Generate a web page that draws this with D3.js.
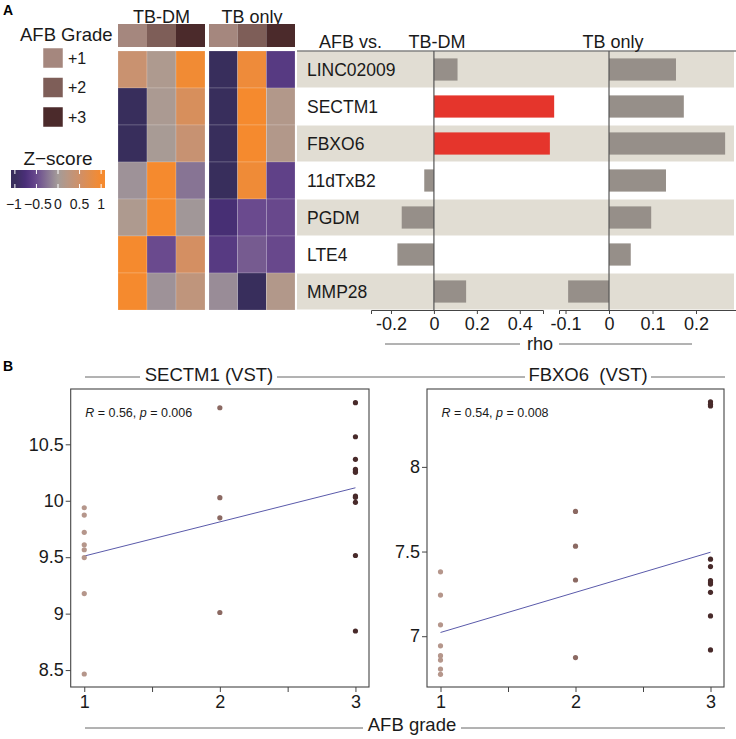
<!DOCTYPE html>
<html><head><meta charset="utf-8">
<script src="https://cdn.jsdelivr.net/npm/d3@7"></script>
<style>body{margin:0;background:#fff}svg{font-family:"Liberation Sans",Arial,sans-serif}</style>
</head><body>
<svg id="c" width="736" height="739"></svg>
<script>
// ---------- data ----------
const genes = ["LINC02009","SECTM1","FBXO6","11dTxB2","PGDM","LTE4","MMP28"];
const groups = ["TB-DM","TB only"];
const grades = [1,2,3];
const gradeLabels = ["+1","+2","+3"];
// z-scores per gene, columns = AFB grade 1,2,3
const zTBDM = [[0.42,0.1,0.95],[-1,0.07,0.6],[-1,0.04,0.4],[-0.06,1,-0.25],[0.1,1,-0.03],[1,-0.5,0.55],[1,-0.06,0.3]];
const zTBonly = [[-1,0.9,-0.65],[-1,1,0.15],[-1,1,0.15],[-1,0.92,-0.58],[-0.8,-0.5,-0.52],[-0.65,-0.4,-0.52],[-0.1,-1,0.15]];
const rhoTBDM = [0.11,0.56,0.54,-0.045,-0.15,-0.17,0.15];
const rhoTBonly = [0.154,0.172,0.267,0.131,0.097,0.05,-0.094];
const sigTBDM = [false,true,true,false,false,false,false];
const sigTBonly = [false,false,false,false,false,false,false];
const zTicks = [-1,-0.5,0,0.5,1];
const zTickLabels = ["−1","−0.5","0","0.5","1"];
const rhoTicksDM = [-0.2,0,0.2,0.4];
const rhoTicksTB = [-0.1,0,0.1,0.2];
// scatter data
const secGrade = [1,1,1,1,1,1,1,1, 2,2,2,2, 3,3,3,3,3,3,3,3,3,3,3];
const secVST = [9.938,9.873,9.72,9.61,9.566,9.497,9.178,8.465, 10.824,10.027,9.849,9.01,
  10.869,10.567,10.367,10.278,10.263,10.252,10.042,10.03,9.986,9.515,8.846];
const fbxGrade = [1,1,1,1,1,1,1,1, 2,2,2,2, 3,3,3,3,3,3,3,3,3,3,3];
const fbxVST = [7.38,7.243,7.067,6.943,6.885,6.859,6.806,6.775, 7.737,7.532,7.332,6.874,
  8.384,8.37,8.36,7.455,7.411,7.328,7.316,7.308,7.259,7.12,6.919];
const secFit = [9.51,10.115];   // fitted line at grade 1 and 3
const fbxFit = [7.022,7.496];
const secYTicks = [8.5,9,9.5,10,10.5];
const fbxYTicks = [7,7.5,8];
const xTicks = [1,1.5,2,2.5,3];
const secStat = {R:"0.56", p:"0.006"};
const fbxStat = {R:"0.54", p:"0.008"};

// ---------- styles ----------
const gradeCol = d3.scaleOrdinal().domain(grades).range(["#a5877e","#7e5e58","#4b2a2b"]);
const ptCol = d3.scaleOrdinal().domain(grades).range(["#b5968b","#8b6962","#482a2a"]);
const zCol = d3.scaleLinear().domain([-1,-0.75,-0.5,-0.25,0,0.5,1])
  .range(["#382e5c","#4b2f7a","#6a4a8e","#877494","#a59c99","#d09068","#f58a2e"]).clamp(true);

const svg = d3.select("#c");
const txt = "#1a1a1a";

// panel letters
svg.append("text").attr("x",3).attr("y",15).attr("font-size",14).attr("font-weight","bold").text("A");
svg.append("text").attr("x",3).attr("y",371).attr("font-size",14).attr("font-weight","bold").text("B");

// ---------- AFB grade legend ----------
svg.append("text").attr("x",20).attr("y",35).attr("dy","0.35em").attr("font-size",18.5).attr("fill",txt).text("AFB Grade");
const legY = d3.scalePoint().domain(grades).range([58,117]);
grades.forEach((g,i)=>{
  svg.append("rect").attr("x",43).attr("y",legY(g)-10).attr("width",20).attr("height",20)
    .attr("fill",gradeCol(g)).attr("stroke","#fff").attr("stroke-width",0.5);
  svg.append("text").attr("x",68).attr("y",legY(g)).attr("dy","0.35em").attr("font-size",16).attr("fill",txt).text(gradeLabels[i]);
});

// ---------- Z-score legend ----------
svg.append("text").attr("x",58).attr("y",158).attr("dy","0.35em").attr("text-anchor","middle").attr("font-size",19).attr("fill",txt).text("Z−score");
const zx = d3.scaleLinear().domain([-1.09,1.09]).range([11,105]);
const grad = svg.append("defs").append("linearGradient").attr("id","zg");
d3.range(0,1.0001,0.05).forEach(t=>{
  grad.append("stop").attr("offset",t).attr("stop-color",zCol(-1.09+2.18*t));
});
svg.append("rect").attr("x",11).attr("y",170).attr("width",94).attr("height",18).attr("fill","url(#zg)");
zTicks.forEach((v,i)=>{
  svg.append("line").attr("x1",zx(v)).attr("x2",zx(v)).attr("y1",170).attr("y2",174).attr("stroke","#fff").attr("stroke-width",1);
  svg.append("line").attr("x1",zx(v)).attr("x2",zx(v)).attr("y1",184).attr("y2",188).attr("stroke","#fff").attr("stroke-width",1);
  svg.append("text").attr("x",zx(v) + (i===0?-1:(i===1?1.5:0))).attr("y",204).attr("dy","0.35em").attr("text-anchor","middle").attr("font-size",14).attr("fill",txt).text(zTickLabels[i]);
});

// ---------- heatmap ----------
const yG = d3.scaleBand().domain(genes).range([51,310]);
const hmX = {
  "TB-DM": d3.scaleBand().domain(grades).range([118,205]),
  "TB only": d3.scaleBand().domain(grades).range([209,295])
};
const hmData = {"TB-DM": zTBDM, "TB only": zTBonly};
groups.forEach(gr=>{
  const x = hmX[gr];
  svg.append("text").attr("x",(x.range()[0]+x.range()[1])/2).attr("y",17).attr("dy","0.35em")
    .attr("text-anchor","middle").attr("font-size",18).attr("fill",txt).text(gr);
  grades.forEach(g=>{
    svg.append("rect").attr("x",x(g)).attr("y",24).attr("width",x.bandwidth()).attr("height",23).attr("fill",gradeCol(g));
  });
  genes.forEach((gene,i)=>{
    grades.forEach((g,j)=>{
      svg.append("rect").attr("x",x(g)).attr("y",yG(gene)).attr("width",x.bandwidth()).attr("height",yG.bandwidth())
        .attr("fill",zCol(hmData[gr][i][j])).attr("stroke","rgba(255,255,255,0.35)").attr("stroke-width",0.5);
    });
  });
});

// ---------- bar panels ----------
genes.forEach((gene,i)=>{
  if(i%2===0) svg.append("rect").attr("x",297).attr("y",yG(gene)+0.5).attr("width",437).attr("height",yG.bandwidth()-1).attr("fill","#e1ddd3");
  svg.append("text").attr("x",307).attr("y",yG(gene)+yG.bandwidth()/2).attr("dy","0.36em").attr("font-size",17.5).attr("fill",txt).text(gene);
});
svg.append("line").attr("x1",297).attr("x2",736).attr("y1",51).attr("y2",51).attr("stroke","#444").attr("stroke-width",1);
svg.append("text").attr("x",319).attr("y",42).attr("dy","0.35em").attr("font-size",18).attr("fill",txt).text("AFB vs.");
const yBar = d3.scaleBand().domain(genes).range([51,310]).paddingInner(0.4).paddingOuter(0.2);
const fmt = v => (v<0?"-":"") + d3.format("")(Math.abs(v));
const panels = [
  {name:"TB-DM", x:d3.scaleLinear().domain([-0.293,0.508]).range([371,543]), rho:rhoTBDM, sig:sigTBDM, ticks:rhoTicksDM, hx:437},
  {name:"TB only", x:d3.scaleLinear().domain([-0.115,0.292]).range([559,736]), rho:rhoTBonly, sig:sigTBonly, ticks:rhoTicksTB, hx:613}
];
panels.forEach(p=>{
  svg.append("text").attr("x",p.hx).attr("y",42).attr("dy","0.35em").attr("text-anchor","middle").attr("font-size",18).attr("fill",txt).text(p.name);
  genes.forEach((gene,i)=>{
    const v = p.rho[i];
    svg.append("rect").attr("x",p.x(Math.min(0,v))).attr("y",yBar(gene)).attr("width",Math.abs(p.x(v)-p.x(0))).attr("height",yBar.bandwidth())
      .attr("fill",p.sig[i]?"#e5352c":"#968f89");
  });
  svg.append("line").attr("x1",p.x(0)).attr("x2",p.x(0)).attr("y1",51).attr("y2",310).attr("stroke","#555").attr("stroke-width",1.2);
  const ax = svg.append("g").attr("transform","translate(0,310)")
    .call(d3.axisBottom(p.x).tickValues(p.ticks).tickFormat(fmt).tickSize(4).tickPadding(3));
  ax.select(".domain").attr("stroke","#444");
  ax.selectAll(".tick line").attr("stroke","#444");
  ax.selectAll("text").attr("font-size",18).attr("fill",txt).attr("font-family","Liberation Sans, Arial, sans-serif");
});
svg.append("line").attr("x1",385).attr("x2",520).attr("y1",344).attr("y2",344).attr("stroke","#666");
svg.append("line").attr("x1",559).attr("x2",692).attr("y1",344).attr("y2",344).attr("stroke","#666");
svg.append("text").attr("x",540).attr("y",344).attr("dy","0.35em").attr("text-anchor","middle").attr("font-size",18).attr("fill",txt).text("rho");

// ---------- scatter panels ----------
const scat = [
  {title:"SECTM1 (VST)", tx:209, g:secGrade, v:secVST, fit:secFit, yd:[8.35,10.99], yt:secYTicks, xr:[70.7,369], stat:secStat},
  {title:"FBXO6  (VST)", tx:588, g:fbxGrade, v:fbxVST, fit:fbxFit, yd:[6.70,8.46], yt:fbxYTicks, xr:[427,724], stat:fbxStat}
];
scat.forEach(s=>{
  const x = d3.scaleLinear().domain([0.9,3.1]).range(s.xr);
  const y = d3.scaleLinear().domain(s.yd).range([687,389]);
  svg.append("text").attr("x",s.tx).attr("y",375).attr("dy","0.35em").attr("text-anchor","middle")
    .attr("font-size",18.5).attr("fill",txt).style("white-space","pre").text(s.title);
  svg.append("rect").attr("x",s.xr[0]).attr("y",389).attr("width",s.xr[1]-s.xr[0]).attr("height",298)
    .attr("fill","none").attr("stroke","#444").attr("stroke-width",1.1);
  const ya = svg.append("g").attr("transform",`translate(${s.xr[0]},0)`)
    .call(d3.axisLeft(y).tickValues(s.yt).tickFormat(d3.format("")).tickSize(5).tickPadding(2));
  ya.select(".domain").remove();
  ya.selectAll(".tick line").attr("stroke","#444");
  ya.selectAll("text").attr("font-size",18).attr("fill",txt).attr("font-family","Liberation Sans, Arial, sans-serif");
  const xa = svg.append("g").attr("transform","translate(0,687)")
    .call(d3.axisBottom(x).tickValues(xTicks).tickFormat(d=>Number.isInteger(d)?d:"").tickSize(5).tickPadding(3));
  xa.select(".domain").remove();
  xa.selectAll(".tick line").attr("stroke","#444");
  xa.selectAll("text").attr("font-size",18).attr("fill",txt).attr("font-family","Liberation Sans, Arial, sans-serif");
  svg.append("line").attr("x1",x(1)).attr("x2",x(3)).attr("y1",y(s.fit[0])).attr("y2",y(s.fit[1]))
    .attr("stroke","#5a5aaa").attr("stroke-width",1);
  s.g.forEach((g,i)=>{
    svg.append("circle").attr("cx",x(g)).attr("cy",y(s.v[i])).attr("r",2.6).attr("fill",ptCol(g));
  });
  const t = svg.append("text").attr("x",s.xr[0]+14.5).attr("y",413).attr("dy","0.35em").attr("font-size",12.5).attr("fill",txt);
  t.append("tspan").attr("font-style","italic").text("R");
  t.append("tspan").text(" = "+s.stat.R+", ");
  t.append("tspan").attr("font-style","italic").text("p");
  t.append("tspan").text(" = "+s.stat.p);
});
// strip lines
[[85,140],[277,525],[651,725]].forEach(l=>{
  svg.append("line").attr("x1",l[0]).attr("x2",l[1]).attr("y1",377).attr("y2",377).attr("stroke","#666");
});
[[85,363],[461,725]].forEach(l=>{
  svg.append("line").attr("x1",l[0]).attr("x2",l[1]).attr("y1",728).attr("y2",728).attr("stroke","#666");
});
svg.append("text").attr("x",412).attr("y",725).attr("dy","0.35em").attr("text-anchor","middle").attr("font-size",18.5).attr("fill",txt).text("AFB grade");
</script>
</body></html>
